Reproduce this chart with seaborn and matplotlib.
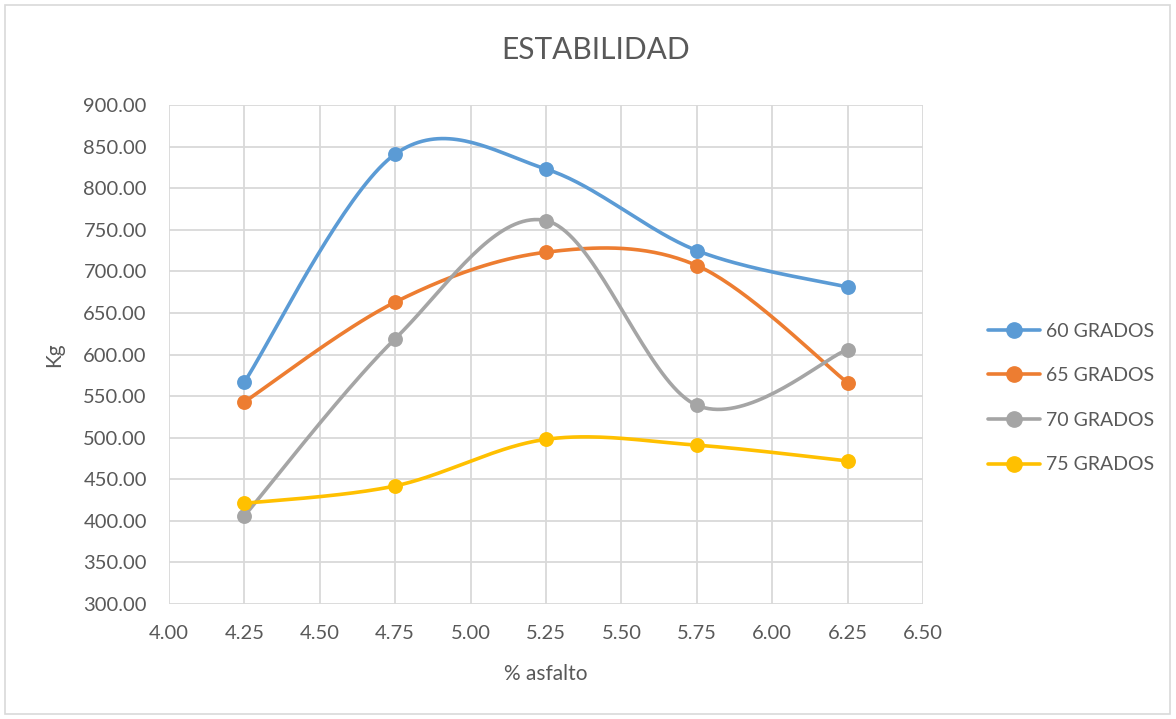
import numpy as np
import pandas as pd
import matplotlib
matplotlib.use("Agg")
import matplotlib.pyplot as plt
from matplotlib.lines import Line2D
from matplotlib.patches import Rectangle
import seaborn as sns

asfalto = [4.25, 4.75, 5.25, 5.75, 6.25]
g60 = [567, 841, 823, 725, 681]
g65 = [543, 663, 723, 707, 566]
g70 = [406, 619, 761, 539, 606]
g75 = [421, 442, 498, 491, 472]
series_names = ["60 GRADOS", "65 GRADOS", "70 GRADOS", "75 GRADOS"]
colors = ["#5B9BD5", "#ED7D31", "#A5A5A5", "#FFC000"]


def smooth(xs, ys, n=40):
    # excel-like smoothed line: catmull-rom bezier between points
    p = np.column_stack([xs, ys]).astype(float)
    out = []
    for i in range(len(p) - 1):
        p0 = p[i - 1] if i > 0 else p[i]
        p1, p2 = p[i], p[i + 1]
        p3 = p[i + 2] if i + 2 < len(p) else p[i + 1]
        c1 = p1 + (p2 - p0) / 6
        c2 = p2 - (p3 - p1) / 6
        t = np.linspace(0, 1, n)[:, None]
        seg = (1 - t) ** 3 * p1 + 3 * (1 - t) ** 2 * t * c1 + 3 * (1 - t) * t ** 2 * c2 + t ** 3 * p2
        out.append(seg if i == 0 else seg[1:])
    return np.vstack(out)


sns.set_style("white")
plt.rcParams['font.family'] = ['Lato', 'DejaVu Sans']
txt = "#595959"
grid = "#D9D9D9"

fig = plt.figure(figsize=(11.76, 7.19), dpi=100)
ax = fig.add_axes([169 / 1176, 1 - 604 / 719, (923 - 169) / 1176, (604 - 105) / 719])

for name, vals, c in zip(series_names, [g60, g65, g70, g75], colors):
    curve = smooth(asfalto, vals)
    sns.lineplot(x=curve[:, 0], y=curve[:, 1], sort=False, color=c, lw=2.6,
                 ax=ax, estimator=None)
    df = pd.DataFrame({"x": asfalto, "y": vals})
    sns.scatterplot(data=df, x="x", y="y", color=c, s=115, edgecolor=c,
                    linewidth=0, ax=ax, zorder=5)

ax.set_xlim(4.0, 6.5)
ax.set_ylim(300, 900)
ax.set_xticks(np.arange(4.0, 6.51, 0.25))
ax.set_yticks(np.arange(300, 901, 50))
ax.set_xticklabels([f"{v:.2f}" for v in np.arange(4.0, 6.51, 0.25)])
ax.set_yticklabels([f"{v:.2f}" for v in np.arange(300, 901, 50)])
ax.grid(True, color=grid, lw=1.3)
ax.set_axisbelow(True)
for s in ax.spines.values():
    s.set_visible(False)
ax.tick_params(length=0, labelsize=14.5, labelcolor=txt)
ax.tick_params(axis="x", pad=15)
ax.tick_params(axis="y", pad=16)
ax.set_xlabel("% asfalto", fontsize=15, color=txt, labelpad=16)
ax.set_ylabel("Kg", fontsize=15, color=txt, labelpad=14)

fig.text(596 / 1176, 1 - 50 / 719, "ESTABILIDAD", fontsize=21.5, color=txt,
         ha="center", va="center")

handles = [Line2D([0], [0], color=c, lw=2.6, marker="o", markersize=11)
           for c in colors]
fig.legend(handles, series_names, loc="center left",
           bbox_to_anchor=(970 / 1176, 1 - 398 / 719), frameon=False,
           fontsize=14, labelcolor=txt, handlelength=2.7, handletextpad=0.3,
           labelspacing=1.42)

fig.add_artist(Rectangle((5 / 1176, 5 / 719), 1165 / 1176, 709 / 719,
                         transform=fig.transFigure, fill=False,
                         edgecolor=grid, lw=1.2))

fig.savefig("out.png", dpi=100)
